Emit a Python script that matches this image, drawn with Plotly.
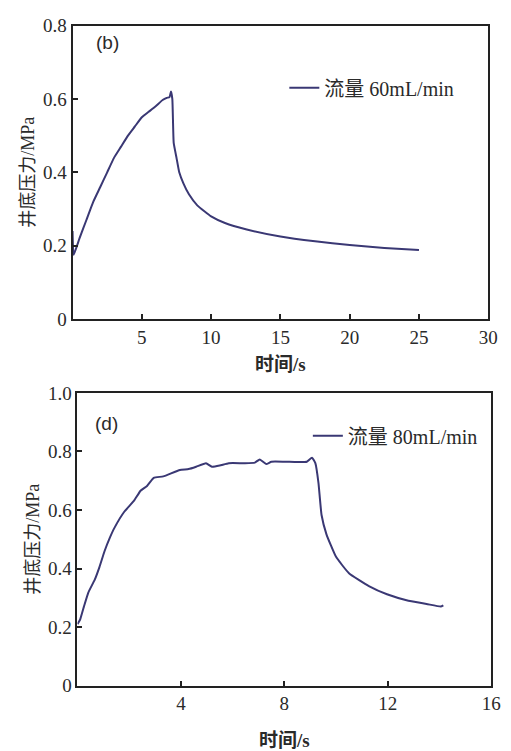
import plotly.graph_objects as go

# Panel (b): flow 60 mL/min
t_b = [0, 0.08, 0.5, 1.0, 1.5, 2.0, 2.5, 3.0, 3.5, 4.0, 4.5, 5.0, 5.5, 6.0, 6.5,
       6.8, 7.0, 7.1, 7.2, 7.3, 7.5, 7.7, 8.0, 8.4, 9.0, 10.0, 11.0, 12.5, 15.0,
       17.5, 20.0, 22.5, 25.0]
p_b = [0.24, 0.175, 0.22, 0.27, 0.32, 0.36, 0.40, 0.44, 0.47, 0.50, 0.525, 0.55,
       0.565, 0.58, 0.597, 0.603, 0.605, 0.62, 0.60, 0.48, 0.44, 0.40, 0.37, 0.34,
       0.31, 0.28, 0.262, 0.245, 0.225, 0.212, 0.202, 0.194, 0.188]

# Panel (d): flow 80 mL/min
t_d = [0, 0.1, 0.25, 0.42, 0.67, 0.85, 1.05, 1.25, 1.43, 1.81, 2.19, 2.44, 2.69,
       2.95, 3.32, 3.96, 4.3, 4.59, 4.97, 5.2, 5.5, 5.85, 6.48, 6.86, 7.05, 7.3,
       7.5, 8.0, 8.5, 8.87, 9.07, 9.2, 9.32, 9.44, 9.63, 10.0, 10.5, 11.27, 11.97,
       12.8, 13.5, 14.05, 14.15]
p_d = [0.21, 0.225, 0.27, 0.318, 0.362, 0.405, 0.46, 0.505, 0.539, 0.594, 0.632,
       0.666, 0.682, 0.71, 0.715, 0.737, 0.74, 0.748, 0.76, 0.748, 0.752, 0.76,
       0.76, 0.762, 0.773, 0.757, 0.765, 0.765, 0.764, 0.765, 0.779, 0.76, 0.693,
       0.583, 0.517, 0.44, 0.384, 0.34, 0.312, 0.29, 0.279, 0.27, 0.274]

name_b = "流量 60mL/min"
name_d = "流量 80mL/min"
x_title = "时间/s"
y_title = "井底压力/MPa"
xticks_b = [5, 10, 15, 20, 25, 30]
yticks_b = [0, 0.2, 0.4, 0.6, 0.8]
xticks_d = [4, 8, 12, 16]
yticks_d = [0, 0.2, 0.4, 0.6, 0.8, 1.0]

LINE = "#3a3874"
TXT = "#2a2a2a"
SERIF = "Liberation Serif"
FONT = "Liberation Serif, Noto Sans CJK SC, serif"

fig = go.Figure()
fig.add_trace(go.Scatter(x=t_b, y=p_b, mode="lines", name=name_b, showlegend=True,
                         line=dict(color=LINE, width=2, shape="spline", smoothing=0.4),
                         xaxis="x", yaxis="y", legend="legend"))
fig.add_trace(go.Scatter(x=t_d, y=p_d, mode="lines", name=name_d, showlegend=True,
                         line=dict(color=LINE, width=2, shape="spline", smoothing=0.4),
                         xaxis="x2", yaxis="y2", legend="legend2"))

axis_common = dict(showline=True, linecolor="#222", linewidth=2, mirror=True,
                   ticks="inside", ticklen=5, tickwidth=1.5, tickcolor="#222",
                   showgrid=False, zeroline=False,
                   tickfont=dict(family=SERIF, size=19, color=TXT))

fig.update_layout(
    width=511, height=751,
    showlegend=True,
    margin=dict(l=0, r=0, t=0, b=0),
    paper_bgcolor="white", plot_bgcolor="white",
    font=dict(family=FONT, size=19, color=TXT),
    xaxis=dict(domain=[0.1448, 0.9746], range=[0, 30], tickvals=xticks_b,
               anchor="y",
               title=dict(text=x_title, standoff=11,
                          font=dict(family=FONT, size=19, color=TXT, weight="bold")),
               **axis_common),
    yaxis=dict(domain=[0.5766, 0.9787], range=[0, 0.8], tickvals=yticks_b,
               ticktext=["0", "0.2", "0.4", "0.6", "0.8"], anchor="x",
               title=dict(text=y_title, standoff=4,
                          font=dict(family=FONT, size=18, color=TXT)),
               **axis_common),
    xaxis2=dict(domain=[0.1546, 0.9804], range=[0, 16], tickvals=xticks_d,
                anchor="y2",
                title=dict(text=x_title, standoff=20,
                           font=dict(family=FONT, size=19, color=TXT, weight="bold")),
                **axis_common),
    yaxis2=dict(domain=[0.0745, 0.4754], range=[0, 1.0], tickvals=yticks_d,
                ticktext=["0", "0.2", "0.4", "0.6", "0.8", "1.0"], anchor="x2",
                title=dict(text=y_title, standoff=4,
                           font=dict(family=FONT, size=18, color=TXT)),
                **axis_common),
    legend=dict(visible=True, x=290 / 511, y=1 - 80 / 751, xanchor="left", yanchor="middle",
                bgcolor="rgba(0,0,0,0)", font=dict(family=FONT, size=20, color=TXT)),
    legend2=dict(visible=True, x=314 / 511, y=1 - 438 / 751, xanchor="left", yanchor="middle",
                 bgcolor="rgba(0,0,0,0)", font=dict(family=FONT, size=20, color=TXT)),
    annotations=[
        dict(text="(b)", x=110 / 511, y=1 - 33 / 751, xref="paper", yref="paper",
             xanchor="center", yanchor="middle", showarrow=False,
             font=dict(family="Liberation Sans, sans-serif", size=19, color=TXT)),
        dict(text="(d)", x=109 / 511, y=1 - 425 / 751, xref="paper", yref="paper",
             xanchor="center", yanchor="middle", showarrow=False,
             font=dict(family="Liberation Sans, sans-serif", size=19, color=TXT)),
    ],
)

fig.write_html("out.html")
